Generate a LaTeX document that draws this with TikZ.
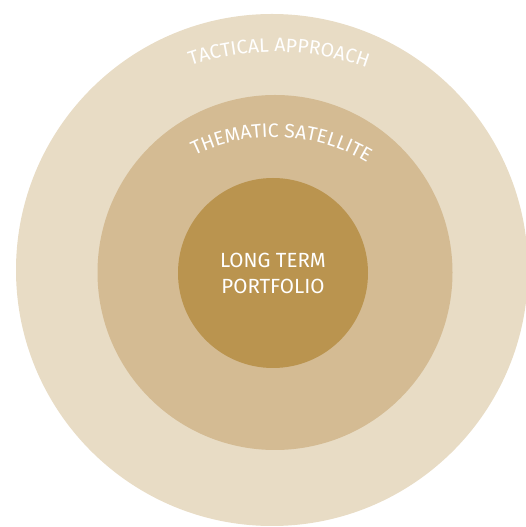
\documentclass[tikz,border=0pt]{standalone}
\usepackage{fontspec}
\setmainfont{Fira Sans}
\usetikzlibrary{decorations.text}
\definecolor{ringouter}{RGB}{232,220,197}
\definecolor{ringmid}{RGB}{212,187,147}
\definecolor{corefill}{RGB}{186,148,79}
\begin{document}
\begin{tikzpicture}[x=1pt,y=1pt,
  disc/.style={circle, inner sep=0pt, draw=none},
  curvedlabel/.style={decorate, decoration={text along path, text align=center, text={#1}}}]
\useasboundingbox (0,0) rectangle (526,527);
\clip (0,0) rectangle (526,527);
\node[disc, fill=ringouter, minimum size=512pt] (outer) at (272,257) {};
\node[disc, fill=ringmid, minimum size=355pt] (middle) at (275,254.5) {};
\node[disc, fill=corefill, minimum size=190pt, text=white, align=center,
      font=\fontsize{20.5}{26}\selectfont] (core) at (273,254) {LONG TERM\\PORTFOLIO};
\path[curvedlabel={|\fontsize{19.5}{21}\selectfont\color{white}|TACTICAL APPROACH}]
  (275,206) ++(119.15:269pt) arc[start angle=119.15, end angle=59.15, radius=269pt];
\path[curvedlabel={|\fontsize{19.5}{21}\selectfont\color{white}|THEMATIC SATELLITE}]
  (274,209) ++(122.5:181pt) arc[start angle=122.5, end angle=52.5, radius=181pt];
\end{tikzpicture}
\end{document}
